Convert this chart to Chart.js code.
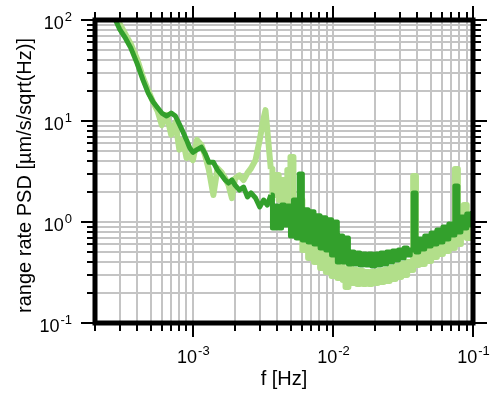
<!DOCTYPE html>
<html>
<head>
<meta charset="utf-8">
<title>range rate PSD</title>
<script src="https://cdn.jsdelivr.net/npm/chart.js@4/dist/chart.umd.min.js"></script>
<style>
  html, body { margin: 0; padding: 0; background: #fff; }
  canvas { display: block; }
</style>
</head>
<body>
<canvas id="psd" width="493" height="394"></canvas>
<script>
// frequency bins [Hz]
const freq = [
    2.6e-4, 2.8e-4, 3.0e-4, 3.3e-4, 3.6e-4, 4.0e-4, 4.4e-4, 4.8e-4, 5.2e-4, 5.6e-4,
    6.0e-4, 6.5e-4, 7.0e-4, 7.5e-4, 8.0e-4, 8.5e-4, 9.0e-4, 9.5e-4,
    1.0e-3, 1.07e-3, 1.15e-3, 1.22e-3, 1.3e-3, 1.4e-3, 1.5e-3, 1.6e-3, 1.7e-3, 1.8e-3,
    1.9e-3, 2.0e-3, 2.15e-3, 2.3e-3, 2.45e-3, 2.6e-3, 2.8e-3, 3.0e-3, 3.2e-3, 3.3e-3, 3.4e-3,
    3.6e-3, 3.8e-3, 4.0e-3, 4.2e-3, 4.4e-3, 4.6e-3, 4.85e-3, 5.1e-3, 5.35e-3, 5.6e-3,
    5.9e-3, 6.2e-3, 6.5e-3, 6.8e-3, 7.15e-3, 7.5e-3, 7.9e-3, 8.3e-3, 8.7e-3, 9.1e-3, 9.55e-3,
    1.0e-2, 1.05e-2, 1.1e-2, 1.15e-2, 1.2e-2, 1.26e-2, 1.32e-2, 1.38e-2, 1.45e-2, 1.52e-2,
    1.6e-2, 1.68e-2, 1.76e-2, 1.85e-2, 1.94e-2, 2.04e-2, 2.14e-2, 2.25e-2, 2.36e-2, 2.48e-2,
    2.6e-2, 2.73e-2, 2.87e-2, 3.0e-2, 3.15e-2, 3.3e-2, 3.48e-2, 3.65e-2, 3.83e-2, 4.0e-2,
    4.2e-2, 4.4e-2, 4.65e-2, 4.9e-2, 5.15e-2, 5.4e-2, 5.65e-2, 5.95e-2, 6.25e-2, 6.55e-2,
    6.9e-2, 7.25e-2, 7.6e-2, 8.0e-2, 8.4e-2, 8.8e-2, 9.25e-2, 9.7e-2, 1.0e-1
];

// smoothed PSD (dark green)
const psdSmooth = [
    123, 100, 81, 66, 53, 37, 25.5, 18.9, 15.4, 13.5,
    12.0, 11.2, 12.0, 11.2, 9.3, 7.8, 6.5, 5.4,
    4.9, 5.2, 5.5, 4.8, 3.9, 3.9, 3.27, 2.92, 2.61, 2.43,
    2.61, 2.32, 2.07, 2.22, 1.77, 1.94, 1.73, 1.41, 1.65, 1.55, 1.47,
    1.85, 0.873, 1.44, 0.873, 1.47, 0.933, 1.44, 0.726, 1.65, 0.695,
    2.99, 0.663, 1.32, 0.634, 1.26, 0.605, 1.15, 0.553, 1.10, 0.528, 1.05,
    0.471, 1.00, 0.402, 0.726, 0.402, 0.695, 0.384, 0.505, 0.384, 0.493,
    0.375, 0.482, 0.375, 0.482, 0.367, 0.482, 0.375, 0.493, 0.384, 0.505,
    0.402, 0.516, 0.421, 0.528, 0.440, 0.553, 0.471, 0.528, 1.94, 0.505,
    0.679, 0.541, 0.726, 0.578, 0.778, 0.605, 0.834, 0.634, 0.892, 0.679,
    0.955, 0.743, 2.27, 0.796, 1.12, 0.873, 1.20, 0.933, 1.23
];

// raw PSD (light green)
const psdRaw = [
    135, 115, 92, 72, 58, 41, 27, 20, 15.4, 12.5,
    9.1, 11.5, 7.3, 9.7, 5.2, 6.5, 4.3, 4.6,
    4.1, 6.5, 5.8, 4.6, 3.3, 1.85, 3.4, 3.1, 2.7, 2.3,
    1.72, 2.7, 2.9, 2.6, 3.05, 3.4, 4.1, 6.5, 10.7, 12.8, 8.1,
    3.35, 1.85, 2.92, 1.65, 2.61, 1.47, 3.27, 4.4, 1.17, 0.743,
    1.65, 0.528, 0.933, 0.440, 0.834, 0.402, 0.743, 0.351, 0.663, 0.320, 0.592,
    0.292, 0.471, 0.279, 0.411, 0.267, 0.227, 0.351, 0.249, 0.335, 0.243,
    0.327, 0.243, 0.320, 0.243, 0.320, 0.249, 0.327, 0.255, 0.335, 0.261,
    0.351, 0.273, 0.367, 0.285, 0.384, 0.299, 0.402, 0.335, 2.85, 0.375,
    0.505, 0.384, 0.528, 0.411, 0.578, 0.450, 0.620, 0.482, 0.663, 0.516,
    0.710, 0.553, 3.35, 0.605, 0.834, 1.47, 0.695, 0.873, 0.71
];

// above this frequency the bins are dense: drawn as a stepped trace
const DENSE_FROM = 3.6e-3;

// decades carrying a "10^n" label
const xLabelValues = [1e-3, 1e-2, 1e-1];
const xLabelExp = ['-3', '-2', '-1'];
const yLabelValues = [1e-1, 1, 10, 100];
const yLabelExp = ['-1', '0', '1', '2'];

const xDecades = [1e-4, 1e-3, 1e-2, 1e-1];
const yDecades = [1e-1, 1, 10, 100];
const X_MIN = 2e-4, X_MAX = 1e-1;
const Y_MIN = 1e-1, Y_MAX = 100;

const DARK = '#33a02c';
const LIGHT = '#b2df8a';
const FONT = "'Liberation Sans', Arial, Helvetica, sans-serif";

// 1..9 x decade, inside the axis range
function logTicks(decades, lo, hi) {
    const out = [];
    decades.forEach(d => {
        for (let m = 1; m <= 9; m++) {
            const v = +(m * d).toPrecision(6);
            if (v >= lo * 0.999 && v <= hi * 1.001) out.push({ value: v, major: m === 1 });
        }
    });
    return out;
}
const xTicks = logTicks(xDecades, X_MIN, X_MAX);
const yTicks = logTicks(yDecades, Y_MIN, Y_MAX);

// "10" with a raised exponent
function powerLabel(ctx, base, exp, x, y, align) {
    ctx.font = '18px ' + FONT;
    const wb = ctx.measureText(base).width;
    ctx.font = '13px ' + FONT;
    const we = ctx.measureText(exp).width;
    let left = x;
    if (align === 'center') left = x - (wb + we) / 2;
    if (align === 'right') left = x - (wb + we);
    ctx.textAlign = 'left';
    ctx.textBaseline = 'middle';
    ctx.font = '18px ' + FONT;
    ctx.fillText(base, left, y);
    ctx.font = '13px ' + FONT;
    ctx.fillText(exp, left + wb + 1, y - 7);
}

const frameAndLabels = {
    id: 'frameAndLabels',
    afterDraw(chart) {
        const { ctx, chartArea: a, scales: { x, y } } = chart;
        ctx.save();
        ctx.strokeStyle = '#000';
        ctx.fillStyle = '#000';

        // tick marks, outward on all four sides
        ctx.lineWidth = 2;
        ctx.beginPath();
        xTicks.forEach(t => {
            const px = Math.round(x.getPixelForValue(t.value));
            const len = t.major ? 14 : 8;
            ctx.moveTo(px, a.bottom); ctx.lineTo(px, a.bottom + len);
            ctx.moveTo(px, a.top); ctx.lineTo(px, a.top - len);
        });
        yTicks.forEach(t => {
            const py = Math.round(y.getPixelForValue(t.value));
            const len = t.major ? 14 : 8;
            ctx.moveTo(a.left, py); ctx.lineTo(a.left - len, py);
            ctx.moveTo(a.right, py); ctx.lineTo(a.right + len, py);
        });
        ctx.stroke();

        // heavy box
        ctx.lineWidth = 5;
        ctx.strokeRect(a.left, a.top, a.right - a.left, a.bottom - a.top);

        // tick labels
        xLabelValues.forEach((v, i) => {
            powerLabel(ctx, '10', xLabelExp[i], x.getPixelForValue(v), a.bottom + 35, 'center');
        });
        yLabelValues.forEach((v, i) => {
            powerLabel(ctx, '10', yLabelExp[i], a.left - 24, y.getPixelForValue(v) + 4, 'right');
        });

        // axis titles
        ctx.font = '20px ' + FONT;
        ctx.textAlign = 'center';
        ctx.textBaseline = 'middle';
        ctx.fillText('f [Hz]', (a.left + a.right) / 2, 379);
        ctx.translate(25, (a.top + a.bottom) / 2 + 4);
        ctx.rotate(-Math.PI / 2);
        ctx.fillText('range rate PSD [\u00b5m/s/sqrt(Hz)]', 0, 0);
        ctx.restore();
    }
};

function logAxis(min, max, ticks) {
    return {
        type: 'logarithmic',
        min: min,
        max: max,
        afterBuildTicks: scale => { scale.ticks = ticks.map(t => ({ value: t.value, major: t.major })); },
        ticks: { display: false },
        grid: { color: '#c4c4c4', lineWidth: 2, drawTicks: false },
        border: { display: false }
    };
}

// split one series into a plain part and a stepped dense part
const split = freq.indexOf(DENSE_FROM);
function points(values, from, to) {
    return freq.slice(from, to).map((f, i) => ({ x: f, y: values[from + i] }));
}
function trace(label, values, color, width, order) {
    return [
        { label: label, data: points(values, 0, split + 1), borderColor: color, borderWidth: width, order: order },
        { label: label, data: points(values, split, freq.length), borderColor: color, borderWidth: width, order: order, stepped: 'middle' }
    ];
}

new Chart(document.getElementById('psd'), {
    type: 'line',
    data: {
        datasets: [
            ...trace('smoothed', psdSmooth, DARK, 5, 1),
            ...trace('raw', psdRaw, LIGHT, 6, 2)
        ]
    },
    options: {
        responsive: false,
        animation: false,
        events: [],
        layout: { padding: { left: 95, right: 20, top: 20, bottom: 71 } },
        plugins: { legend: { display: false }, tooltip: { enabled: false } },
        elements: {
            point: { radius: 0 },
            line: { tension: 0, borderJoinStyle: 'round', borderCapStyle: 'butt', fill: false }
        },
        datasets: { line: { clip: 0 } },
        scales: {
            x: logAxis(X_MIN, X_MAX, xTicks),
            y: logAxis(Y_MIN, Y_MAX, yTicks)
        }
    },
    plugins: [frameAndLabels]
});
</script>
</body>
</html>
